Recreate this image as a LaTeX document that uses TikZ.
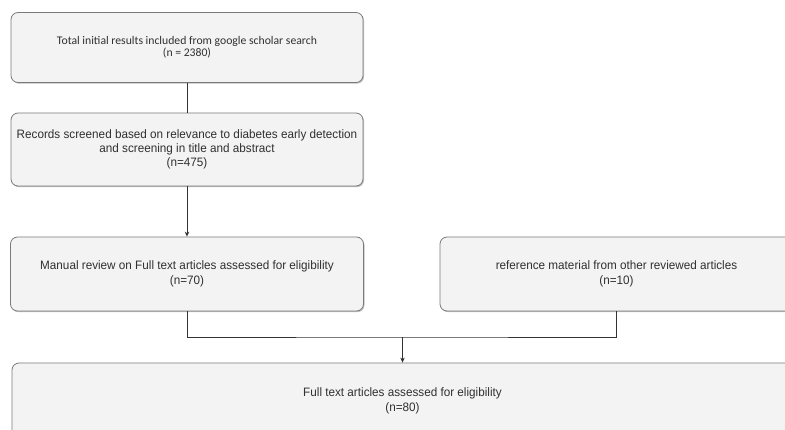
\documentclass[tikz,border=0pt]{standalone}
\usepackage{fontspec}
\setmainfont{Liberation Sans}
\newfontfamily\calfont{Carlito}
\newfontfamily\narrowfont[FakeStretch=0.96]{Liberation Sans}
\usetikzlibrary{shadows,arrows.meta}

\definecolor{boxfill}{HTML}{F3F3F3}
\definecolor{boxline}{HTML}{7A7A7A}
\definecolor{wire}{HTML}{333333}
\definecolor{boxtext}{HTML}{303030}

\tikzset{
    flowbox/.style={draw=boxline, fill=boxfill, rounded corners=7pt, line width=0.8pt,
        align=center, inner sep=0pt, text=boxtext,
        drop shadow={shadow xshift=1pt, shadow yshift=-1.2pt, opacity=0.25, fill=black}},
    lowbox/.style={flowbox, minimum height=74pt, font=\narrowfont\fontsize{12.2}{14.6}\selectfont},
    wireline/.style={draw=wire, line width=0.7pt},
    wirearrow/.style={wireline, -{Stealth[length=5pt,width=4.5pt]}}
}

\begin{document}
\begin{tikzpicture}[x=1pt,y=-1pt]
        % Fix the page size
        \useasboundingbox (0,0) rectangle (785,430);
        \clip (0,0) rectangle (785,430);

        % Draw the boxes of the flow
        \node[flowbox, minimum width=352pt, minimum height=70pt, font=\calfont\fontsize{11.7}{12.4}\selectfont] (search) at (187,47.5)
            {Total initial results included from google scholar search\\(n = 2380)};

        \node[flowbox, minimum width=352pt, minimum height=73pt, font=\narrowfont\fontsize{12.2}{13.7}\selectfont] (screened) at (187,149.5)
            {Records screened based on relevance to diabetes early detection\\and screening in title and abstract\\(n=475)};

        \node[lowbox, minimum width=353pt] (manual) at (187,274)
            {Manual review on Full text articles assessed for eligibility\\(n=70)};

        \node[lowbox, minimum width=353pt] (reference) at (616.5,274)
            {reference material from other reviewed articles\\(n=10)};

        \node[lowbox, minimum width=781pt, minimum height=76pt] (fulltext) at (402.5,401)
            {Full text articles assessed for eligibility\\(n=80)};

        % Draw the connectors
        \coordinate (join) at (402.5,337);
        \draw[wireline] (search.south) -- (screened.north);
        \draw[wirearrow] (screened.south) -- (manual.north);
        \draw[wireline] (manual.south) |- (join) -| (reference.south);
        \draw[wirearrow] (join) -- (fulltext.north);
\end{tikzpicture}
\end{document}
